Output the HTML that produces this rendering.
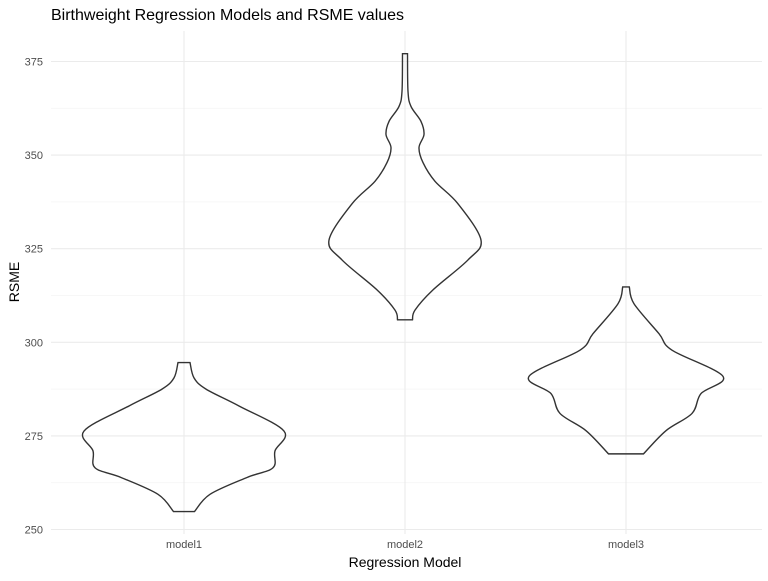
<!DOCTYPE html>
<html><head><meta charset="utf-8"><style>
body{margin:0;background:#fff;}
svg text{font-family:"Liberation Sans",sans-serif;}
</style></head><body>
<svg id="chart" width="768" height="576" xmlns="http://www.w3.org/2000/svg">
<text x="51" y="20" font-size="16" fill="#000">Birthweight Regression Models and RSME values</text>
<g id="grid"></g>
<g id="violins"></g>
<g id="axes"></g>
<text x="405" y="567" font-size="14" text-anchor="middle" fill="#000">Regression Model</text>
<text transform="translate(19,282) rotate(-90)" font-size="14" text-anchor="middle" fill="#000">RSME</text>
</svg>
<script>
const categories = ["model1","model2","model3"];
const yTicks = [250,275,300,325,350,375];
// violin profiles: RSME value levels and density (half-width) at each level
const model1Values  = [254.8,259.4,263.9,266.5,271,276.3,283,287.5,290.5,294.6];
const model1Density = [10.5,26,63,89,91,100,55,22,10,6];
const model2Values  = [306,308.6,314,322,327.3,337,343,348,352,355.5,359,363,367,377.1];
const model2Density = [7.5,10,28,63,76,53,30,18,14,19,16,6,3,2.5];
const model3Values  = [270.2,276.4,281,286.3,290.9,297.9,302.3,310.3,314.8];
const model3Density = [17.5,40,66,75,97,46,33,8,3.3];
const allValues=[model1Values,model2Values,model3Values];
const allDensity=[model1Density,model2Density,model3Density];

const NS="http://www.w3.org/2000/svg";
const L=51,R=762,T=31,B=534;
function yS(v){return 529.5-(v-250)*3.744;}
function xS(i){return 184+i*221;}
function mk(t,a,p){const e=document.createElementNS(NS,t);for(const k in a)e.setAttribute(k,a[k]);p.appendChild(e);return e;}
const grid=document.getElementById('grid'),axes=document.getElementById('axes'),vg=document.getElementById('violins');
for(let i=0;i<yTicks.length;i++){
  const v=yTicks[i];
  const l=mk('line',{x1:L,x2:R,y1:yS(v),y2:yS(v),stroke:'#ebebeb','stroke-width':1.1},grid);
  
  
  if(i<yTicks.length-1){
    const m=mk('line',{x1:L,x2:R,y1:yS(v+12.5),y2:yS(v+12.5),stroke:'#f5f5f5','stroke-width':0.8},grid);
    
    
  }
  const t=mk('text',{x:43,y:yS(v)+4,'font-size':11,'text-anchor':'end',fill:'#4d4d4d'},axes);
  t.textContent=v;
  
  
}
categories.forEach((c,i)=>{
  const l=mk('line',{x1:xS(i),x2:xS(i),y1:T,y2:B,stroke:'#ebebeb','stroke-width':1.1},grid);
  
  
  const t=mk('text',{x:xS(i),y:548,'font-size':11,'text-anchor':'middle',fill:'#4d4d4d'},axes);
  t.textContent=c;
  
  
});
function spline(pts){
  let d='';
  for(let i=0;i<pts.length-1;i++){
    const p0=pts[Math.max(0,i-1)],p1=pts[i],p2=pts[i+1],p3=pts[Math.min(pts.length-1,i+2)];
    const c1=[p1[0]+(p2[0]-p0[0])/6,p1[1]+(p2[1]-p0[1])/6];
    const c2=[p2[0]-(p3[0]-p1[0])/6,p2[1]-(p3[1]-p1[1])/6];
    d+=` C${c1[0]},${c1[1]} ${c2[0]},${c2[1]} ${p2[0]},${p2[1]}`;
  }
  return d;
}
categories.forEach((c,i)=>{
  const vals=allValues[i],den=allDensity[i],cx=xS(i);
  const right=vals.map((v,k)=>[cx+den[k],yS(v)]);
  const left=vals.map((v,k)=>[cx-den[k],yS(v)]).reverse();
  let d=`M${right[0][0]},${right[0][1]}`+spline(right)+` L${left[0][0]},${left[0][1]}`+spline(left)+' Z';
  const p=mk('path',{d:d,fill:'none',stroke:'#333','stroke-width':1.4},vg);
  
  
});
</script>
</body></html>
